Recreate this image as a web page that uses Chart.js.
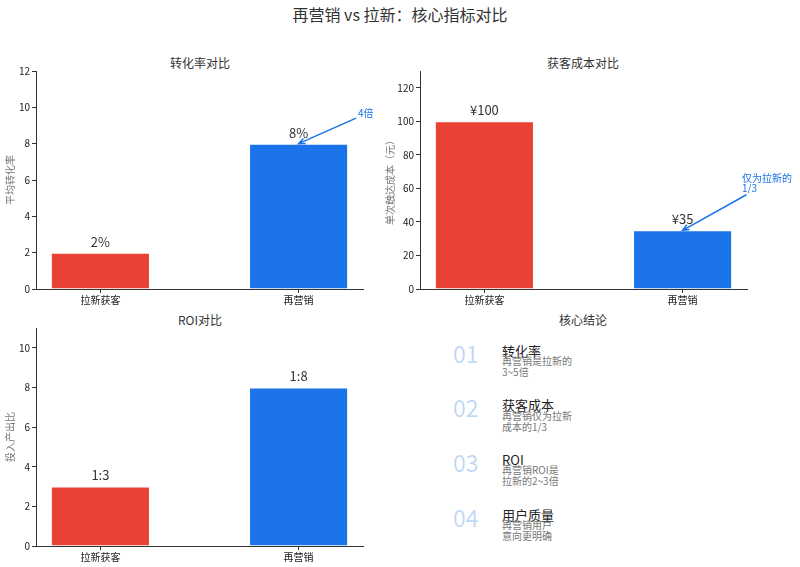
<!DOCTYPE html>
<html>
<head>
<meta charset="utf-8">
<script src="https://cdn.jsdelivr.net/npm/chart.js@4.4.1/dist/chart.umd.min.js"></script>
<style>
  body { margin: 0; background: #fff; }
  #wrap { position: relative; width: 800px; height: 567px; overflow: hidden;
          font-family: "Noto Sans CJK SC", "DejaVu Sans", sans-serif; }
  .box { position: absolute; }
  .txt { position: absolute; white-space: nowrap; line-height: 1; }
</style>
</head>
<body>
<div id="wrap">
  <div class="txt" style="left:0;width:800px;text-align:center;top:6px;font-size:16px;color:#333">再营销 vs 拉新：核心指标对比</div>
  <div class="txt" style="left:0;width:400px;text-align:center;top:57px;font-size:12px;color:#333">转化率对比</div>
  <div class="txt" style="left:383px;width:400px;text-align:center;top:57px;font-size:12px;color:#333">获客成本对比</div>
  <div class="txt" style="left:0;width:400px;text-align:center;top:314px;font-size:12px;color:#333">ROI对比</div>
  <div class="txt" style="left:383px;width:400px;text-align:center;top:314px;font-size:12px;color:#333">核心结论</div>

  <div class="box" style="left:0;top:40px;width:380px;height:270px"><canvas id="c1"></canvas></div>
  <div class="box" style="left:380px;top:40px;width:420px;height:270px"><canvas id="c2"></canvas></div>
  <div class="box" style="left:0;top:310px;width:380px;height:257px"><canvas id="c3"></canvas></div>
  <div id="panel"></div>
</div>

<script>
// data
const categories = ['拉新获客', '再营销'];
const barColors = ['#EA4335', '#1A73E8'];

const convRate = [2, 8];
const convLabels = ['2%', '8%'];

const costValues = [100, 35];
const costLabels = ['¥100', '¥35'];

const roiValues = [3, 8];
const roiLabels = ['1:3', '1:8'];

const keyNums = ['01', '02', '03', '04'];
const keyTitles = ['转化率', '获客成本', 'ROI', '用户质量'];
const keyDescs = [
  ['再营销是拉新的', '3~5倍'],
  ['再营销仅为拉新', '成本的1/3'],
  ['再营销ROI是', '拉新的2~3倍'],
  ['再营销用户', '意向更明确']
];

const FONT = '"Noto Sans CJK SC", "DejaVu Sans", sans-serif';

// bar value labels + arrow note
const notesPlugin = {
  id: 'notes',
  afterDatasetsDraw(chart, args, opts) {
    const ctx = chart.ctx;
    const meta = chart.getDatasetMeta(0);
    ctx.save();
    ctx.font = '13px ' + FONT;
    ctx.fillStyle = '#333';
    ctx.textAlign = 'center';
    ctx.textBaseline = 'middle';
    meta.data.forEach((bar, i) => {
      ctx.fillText(opts.labels[i], bar.x, bar.y - 11);
    });
    const n = opts.arrow;
    if (n) {
      const xs = chart.scales.x, ys = chart.scales.y;
      const ax = xs.getPixelForValue(n.textAt[0]);
      const ay = ys.getPixelForValue(n.textAt[1]);
      const tipX = xs.getPixelForValue(n.point[0]);
      const tipY = ys.getPixelForValue(n.point[1]);
      ctx.font = '10px ' + FONT;
      ctx.fillStyle = '#1A73E8';
      ctx.textAlign = 'left';
      ctx.textBaseline = 'alphabetic';
      const lh = 10;
      let w = 0;
      n.text.forEach((line, k) => {
        const yy = ay - (n.text.length - 1 - k) * lh;
        ctx.fillText(line, ax, yy);
        w = Math.max(w, ctx.measureText(line).width);
      });
      // text box, arrow starts where the line from its centre leaves it
      const top = ay - (n.text.length - 1) * lh - 9;
      const bot = ay + 2;
      const cx = ax + w / 2, cy = (top + bot) / 2;
      const hw = w / 2 + 2, hh = (bot - top) / 2 + 1;
      const dx = tipX - cx, dy = tipY - cy;
      const t = Math.min(hw / Math.abs(dx || 1e-6), hh / Math.abs(dy || 1e-6));
      const sx = cx + dx * t, sy = cy + dy * t;
      ctx.strokeStyle = '#1A73E8';
      ctx.lineWidth = 1.5;
      ctx.beginPath();
      ctx.moveTo(sx, sy);
      ctx.lineTo(tipX, tipY);
      const ang = Math.atan2(tipY - sy, tipX - sx);
      const hl = 7;
      ctx.moveTo(tipX - hl * Math.cos(ang - 0.4), tipY - hl * Math.sin(ang - 0.4));
      ctx.lineTo(tipX, tipY);
      ctx.lineTo(tipX - hl * Math.cos(ang + 0.4), tipY - hl * Math.sin(ang + 0.4));
      ctx.stroke();
    }
    ctx.restore();
  }
};

function makeChart(id, values, labels, yMax, yStep, yTitle, yWidth, padTop, padRight, arrow) {
  return new Chart(document.getElementById(id), {
    type: 'bar',
    data: {
      datasets: [{
        data: values.map((v, i) => ({ x: i, y: v })),
        backgroundColor: barColors,
        borderColor: 'rgba(255,255,255,0.45)',
        borderWidth: 1,
        barPercentage: 0.5,
        categoryPercentage: 1
      }]
    },
    options: {
      responsive: true,
      maintainAspectRatio: false,
      animation: false,
      layout: { padding: { top: padTop, right: padRight, left: 0, bottom: 0 } },
      plugins: {
        legend: { display: false },
        tooltip: { enabled: false },
        notes: { labels: labels, arrow: arrow }
      },
      scales: {
        x: {
          type: 'linear',
          min: -0.325,
          max: 1.325,
          offset: false,
          afterBuildTicks: (s) => { s.ticks = categories.map((c, i) => ({ value: i })); },
          afterFit: (s) => { s.height = 21; },
          ticks: {
            callback: (v) => categories[v],
            color: '#222',
            padding: 1,
            maxRotation: 0,
            font: { size: 10, family: FONT }
          },
          grid: { drawOnChartArea: false, offset: false, tickLength: 4, color: '#333' },
          border: { color: '#333' }
        },
        y: {
          min: 0,
          max: yMax,
          afterFit: (s) => { s.width = yWidth; },
          ticks: {
            stepSize: yStep,
            includeBounds: false,
            color: '#222',
            padding: 2,
            font: { size: 10, family: FONT }
          },
          grid: { drawOnChartArea: false, tickLength: 4, color: '#333' },
          border: { color: '#333' },
          title: {
            display: true,
            text: yTitle,
            color: '#777',
            padding: { top: 4, bottom: 2 },
            font: { size: 10, family: FONT }
          }
        }
      }
    },
    plugins: [notesPlugin]
  });
}

makeChart('c1', convRate, convLabels, 12, 2, '平均转化率', 36, 31, 17,
  { text: ['4倍'], textAt: [1.3, 9.45], point: [1, 8] });
makeChart('c2', costValues, costLabels, 130, 20, '单次触达成本（元）', 40, 31, 53,
  { text: ['仅为拉新的', '1/3'], textAt: [1.3, 58], point: [1, 35] });
makeChart('c3', roiValues, roiLabels, 11, 2, '投入产出比', 36, 18, 17, null);

// key conclusions panel
const panel = document.getElementById('panel');
keyNums.forEach((num, i) => {
  const c = 353 + i * 54.7;
  let html = '';
  html += '<div class="txt" style="left:453px;top:' + (c - 11.5) + 'px;font-size:23px;color:rgba(26,115,232,0.28)">' + num + '</div>';
  html += '<div class="txt" style="left:502px;top:' + (c - 9.5) + 'px;font-size:13px;color:#222">' + keyTitles[i] + '</div>';
  keyDescs[i].forEach((d, k) => {
    html += '<div class="txt" style="left:502px;top:' + (c + 3 + k * 11) + 'px;font-size:10px;color:#777">' + d + '</div>';
  });
  panel.insertAdjacentHTML('beforeend', html);
});
</script>
</body>
</html>
